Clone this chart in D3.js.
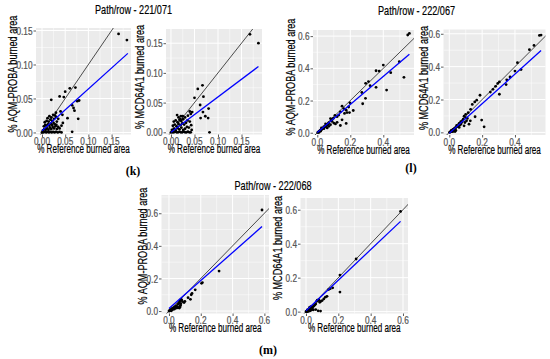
<!DOCTYPE html>
<html>
<head>
<meta charset="utf-8">
<script src="https://cdn.jsdelivr.net/npm/d3@7"></script>
<style>
	body { margin: 0; background: #fff; }
	svg { display: block; }
</style>
</head>
<body>
<div id="chart"></div>
<script>
const width = 550,
		height = 359;

// [reference, product] burned area
const aqm221071 = [
	[0.165,0.145],[0.183,0.136],[0.072,0.066],[0.060,0.065],[0.050,0.060],[0.038,0.053],[0.020,0.048],[0.047,0.052],
	[0.080,0.047],[0.076,0.046],[0.065,0.040],[0.068,0.036],[0.070,0.032],[0.078,0.020],[0.065,0.001],[0.055,0.021],
	[0.044,0.026],[0.040,0.031],[0.030,0.029],[0.028,0.025],[0.035,0.020],[0.042,0.010],[0.038,0.006],[0.045,0.014],
	[0.032,0.016],[0.000,0.000],[0.003,0.000],[0.006,0.001],[0.009,0.000],[0.012,0.001],[0.015,0.000],[0.018,0.001],
	[0.021,0.000],[0.024,0.001],[0.027,0.000],[0.030,0.001],[0.034,0.000],[0.038,0.001],[0.042,0.000],[0.002,0.003],
	[0.005,0.005],[0.008,0.004],[0.011,0.006],[0.014,0.004],[0.017,0.007],[0.020,0.005],[0.023,0.008],[0.026,0.006],
	[0.029,0.009],[0.032,0.005],[0.035,0.008],[0.004,0.009],[0.007,0.011],[0.010,0.010],[0.013,0.012],[0.016,0.010],
	[0.019,0.013],[0.022,0.011],[0.025,0.014],[0.028,0.012],[0.031,0.011],[0.006,0.015],[0.010,0.017],[0.014,0.016],
	[0.018,0.019],[0.022,0.017],[0.026,0.020],[0.012,0.021],[0.016,0.024],[0.020,0.022],[0.024,0.026],[0.030,0.023]
];
const mcd221071 = [
	[0.168,0.165],[0.186,0.150],[0.067,0.079],[0.057,0.073],[0.050,0.058],[0.069,0.060],[0.062,0.046],[0.068,0.034],
	[0.073,0.027],[0.079,0.024],[0.063,0.024],[0.080,0.040],[0.082,0.000],[0.045,0.034],[0.040,0.035],[0.042,0.031],
	[0.036,0.028],[0.030,0.025],[0.025,0.027],[0.013,0.029],[0.020,0.022],[0.035,0.020],[0.040,0.018],[0.043,0.012],
	[0.038,0.008],[0.044,0.004],[0.000,0.000],[0.003,0.000],[0.006,0.000],[0.009,0.001],[0.012,0.000],[0.015,0.000],
	[0.018,0.001],[0.021,0.000],[0.024,0.000],[0.027,0.001],[0.030,0.000],[0.033,0.000],[0.036,0.001],[0.039,0.000],
	[0.042,0.000],[0.002,0.004],[0.006,0.006],[0.010,0.003],[0.014,0.007],[0.018,0.005],[0.022,0.008],[0.026,0.004],
	[0.030,0.006],[0.034,0.009],[0.004,0.011],[0.008,0.013],[0.012,0.010],[0.016,0.014],[0.020,0.012],[0.024,0.015],
	[0.028,0.013],[0.032,0.016],[0.006,0.018],[0.010,0.020],[0.014,0.017],[0.018,0.021],[0.022,0.019],[0.026,0.022],
	[0.016,0.025],[0.021,0.027]
];
const aqm222067 = [
	[0.548,0.607],[0.558,0.617],[0.497,0.441],[0.525,0.344],[0.400,0.420],[0.445,0.373],[0.356,0.385],[0.375,0.383],
	[0.420,0.265],[0.356,0.282],[0.320,0.292],[0.310,0.318],[0.293,0.307],[0.292,0.214],[0.275,0.180],[0.270,0.250],
	[0.198,0.186],[0.190,0.160],[0.218,0.138],[0.175,0.140],[0.150,0.165],[0.160,0.150],[0.180,0.125],[0.195,0.125],
	[0.165,0.120],[0.140,0.130],[0.130,0.110],[0.120,0.100],[0.107,0.108],[0.098,0.090],[0.090,0.085],[0.080,0.088],
	[0.085,0.075],[0.150,0.080],[0.175,0.058],[0.140,0.045],[0.120,0.065],[0.110,0.055],[0.100,0.060],[0.080,0.050],
	[0.070,0.062],[0.065,0.055],[0.060,0.050],[0.055,0.045],[0.050,0.040],[0.045,0.035],[0.040,0.038],[0.035,0.030],
	[0.030,0.026],[0.027,0.020],[0.022,0.018],[0.018,0.015],[0.015,0.012],[0.012,0.008],[0.008,0.006],[0.005,0.004],
	[0.003,0.001],[0.010,0.002],[0.020,0.010],[0.025,0.030],[0.040,0.025],[0.050,0.055],[0.060,0.030],[0.070,0.040],
	[0.090,0.070]
];
const mcd222067 = [
	[0.549,0.590],[0.559,0.592],[0.516,0.529],[0.488,0.503],[0.415,0.424],[0.437,0.382],[0.400,0.373],[0.370,0.337],
	[0.350,0.320],[0.346,0.291],[0.305,0.307],[0.295,0.298],[0.282,0.280],[0.266,0.262],[0.305,0.232],[0.250,0.245],
	[0.187,0.226],[0.167,0.196],[0.155,0.185],[0.140,0.170],[0.130,0.140],[0.115,0.120],[0.100,0.110],[0.090,0.098],
	[0.157,0.095],[0.197,0.075],[0.128,0.070],[0.120,0.050],[0.212,0.034],[0.110,0.085],[0.105,0.070],[0.095,0.060],
	[0.085,0.080],[0.080,0.070],[0.075,0.060],[0.070,0.050],[0.065,0.045],[0.060,0.055],[0.055,0.040],[0.050,0.035],
	[0.045,0.042],[0.040,0.030],[0.035,0.025],[0.030,0.022],[0.027,0.015],[0.022,0.018],[0.018,0.010],[0.015,0.008],
	[0.012,0.012],[0.010,0.005],[0.007,0.003],[0.004,0.002],[0.002,0.000],[0.020,0.004],[0.025,0.008],[0.030,0.010],
	[0.035,0.005],[0.040,0.012],[0.060,0.030],[0.070,0.065],[0.090,0.040],[0.100,0.090]
];
const aqm222068 = [
	[0.585,0.620],[0.315,0.245],[0.210,0.175],[0.205,0.170],[0.165,0.130],[0.145,0.108],[0.140,0.100],[0.120,0.082],
	[0.135,0.072],[0.100,0.060],[0.095,0.052],[0.085,0.058],[0.080,0.068],[0.075,0.072],[0.070,0.066],[0.068,0.058],
	[0.075,0.045],[0.072,0.035],[0.070,0.025],[0.065,0.018],[0.060,0.022],[0.055,0.020],[0.050,0.024],[0.045,0.018],
	[0.040,0.022],[0.035,0.025],[0.030,0.020],[0.028,0.014],[0.025,0.010],[0.022,0.018],[0.020,0.012],[0.018,0.008],
	[0.015,0.010],[0.012,0.006],[0.010,0.004],[0.008,0.008],[0.005,0.003],[0.003,0.001],[0.000,0.000],[0.015,0.002],
	[0.035,0.012],[0.045,0.030],[0.060,0.045],[0.065,0.050],[0.055,0.040]
];
const mcd222068 = [
	[0.585,0.590],[0.310,0.310],[0.210,0.215],[0.210,0.115],[0.165,0.140],[0.150,0.135],[0.140,0.130],[0.130,0.090],
	[0.120,0.085],[0.110,0.075],[0.100,0.065],[0.090,0.060],[0.085,0.055],[0.080,0.070],[0.075,0.065],[0.070,0.068],
	[0.065,0.060],[0.060,0.045],[0.055,0.040],[0.050,0.035],[0.045,0.030],[0.040,0.028],[0.035,0.025],[0.030,0.030],
	[0.025,0.020],[0.022,0.025],[0.020,0.015],[0.018,0.010],[0.015,0.012],[0.012,0.008],[0.010,0.005],[0.008,0.010],
	[0.005,0.003],[0.003,0.001],[0.000,0.000],[0.008,0.000],[0.015,0.002],[0.020,0.004],[0.030,0.008],[0.045,0.010],
	[0.060,0.012],[0.075,0.005],[0.090,0.003],[0.040,0.015],[0.025,0.005]
];

// linear fits: [intercept, slope, x start, x end]
const fitAqm221071 = [0.0026, 0.615, 0, 0.185];
const fitMcd221071 = [0.000, 0.595, 0, 0.186];
const fitAqm222067 = [0.001, 0.873, 0, 0.558];
const fitMcd222067 = [-0.005, 0.900, 0, 0.559];
const fitAqm222068 = [0.015, 0.860, 0, 0.585];
const fitMcd222068 = [0.005, 0.900, 0, 0.585];

const ticksSmall = [0, 0.05, 0.10, 0.15];
const ticksLarge = [0, 0.2, 0.4, 0.6];
const pathRows = ["Path/row - 221/071", "Path/row - 222/067", "Path/row - 222/068"];
const figLabels = ["(k)", "(l)", "(m)"];
const yTitles = ["% AQM-PROBA burned area", "% MCD64A1 burned area"];
const xTitle = "% Reference burned area";

// layout of the six panels (pixel boxes [x0, y0, x1, y1]) and y-title centres
const panels = [
	{ data: aqm221071, fit: fitAqm221071, yTitle: yTitles[0], box: [36, 28, 131, 134.5], xDom: [-0.0129, 0.1918], yDom: [-0.003, 0.1537], ticks: ticksSmall, fmt: ".2f", yLab: [12, 74] },
	{ data: mcd221071, fit: fitMcd221071, yTitle: yTitles[1], box: [166, 29, 262, 134.5], xDom: [-0.0106, 0.1936], yDom: [-0.0037, 0.1739], ticks: ticksSmall, fmt: ".2f", yLab: [139.5, 77] },
	{ data: aqm222067, fit: fitAqm222067, yTitle: yTitles[0], box: [313, 30, 414, 135], xDom: [-0.026, 0.586], yDom: [-0.014, 0.638], ticks: ticksLarge, fmt: ".1f", yLab: [290.5, 77] },
	{ data: mcd222067, fit: fitMcd222067, yTitle: yTitles[1], box: [443.5, 29.5, 545.5, 135], xDom: [-0.0354, 0.586], yDom: [-0.016, 0.626], ticks: ticksLarge, fmt: ".1f", yLab: [423.5, 78] },
	{ data: aqm222068, fit: fitAqm222068, yTitle: yTitles[0], box: [161.5, 195, 269, 313.5], xDom: [-0.047, 0.629], yDom: [-0.015, 0.712], ticks: ticksLarge, fmt: ".1f", yLab: [142.5, 246] },
	{ data: mcd222068, fit: fitMcd222068, yTitle: yTitles[1], box: [300.5, 198, 408, 313.5], xDom: [-0.034, 0.631], yDom: [-0.011, 0.669], ticks: ticksLarge, fmt: ".1f", yLab: [277.5, 248] }
];

const svg = d3.select("#chart")
	.append("svg")
		.attr("width", width)
		.attr("height", height)
		.style("font-family", "'Liberation Sans', Arial, sans-serif");

// the figure's type is narrow and a bit heavy: squeeze along the text and add a thin outline
const addText = (g, str, x, y, opt) => g.append("text")
	.attr("transform", `translate(${x},${y}) rotate(${opt.rotate || 0}) scale(${opt.squeeze || 1},1)`)
	.attr("text-anchor", opt.anchor || "middle")
	.attr("font-size", opt.size)
	.attr("font-weight", opt.weight || "normal")
	.attr("font-family", opt.family || null)
	.attr("fill", opt.fill || "#000")
	.attr("stroke", opt.fill || "#000")
	.attr("stroke-width", opt.heavy || 0)
	.text(str);

const drawPanel = (p, idx) => {
	const [x0, y0, x1, y1] = p.box;
	const x = d3.scaleLinear().domain(p.xDom).range([x0, x1]);
	const y = d3.scaleLinear().domain(p.yDom).range([y1, y0]);
	const step = p.ticks[1] - p.ticks[0];
	const inX = (v) => v >= p.xDom[0] && v <= p.xDom[1];
	const inY = (v) => v >= p.yDom[0] && v <= p.yDom[1];
	const minor = d3.range(-step / 2, 0.8, step).map((v) => +v.toFixed(4));

	const g = svg.append("g").attr("class", "panel");

	g.append("clipPath")
		.attr("id", "clip" + idx)
		.append("rect")
			.attr("x", x0).attr("y", y0)
			.attr("width", x1 - x0).attr("height", y1 - y0);

	g.append("rect")
		.attr("x", x0).attr("y", y0)
		.attr("width", x1 - x0).attr("height", y1 - y0)
		.attr("fill", "#EBEBEB");

	// grid
	const grid = g.append("g").attr("stroke", "#fff");
	grid.selectAll(".mx").data(minor.filter(inX)).enter().append("line")
		.attr("x1", (d) => x(d)).attr("x2", (d) => x(d))
		.attr("y1", y0).attr("y2", y1).attr("stroke-width", 0.5);
	grid.selectAll(".my").data(minor.filter(inY)).enter().append("line")
		.attr("y1", (d) => y(d)).attr("y2", (d) => y(d))
		.attr("x1", x0).attr("x2", x1).attr("stroke-width", 0.5);
	grid.selectAll(".gx").data(p.ticks.filter(inX)).enter().append("line")
		.attr("x1", (d) => x(d)).attr("x2", (d) => x(d))
		.attr("y1", y0).attr("y2", y1).attr("stroke-width", 1);
	grid.selectAll(".gy").data(p.ticks.filter(inY)).enter().append("line")
		.attr("y1", (d) => y(d)).attr("y2", (d) => y(d))
		.attr("x1", x0).attr("x2", x1).attr("stroke-width", 1);

	const plot = g.append("g").attr("clip-path", `url(#clip${idx})`);

	// 1:1 line
	plot.append("line")
		.attr("x1", x(-1)).attr("y1", y(-1))
		.attr("x2", x(1)).attr("y2", y(1))
		.attr("stroke", "#222")
		.attr("stroke-width", 0.8);

	plot.selectAll("circle")
		.data(p.data)
		.enter()
		.append("circle")
			.attr("cx", (d) => x(d[0]))
			.attr("cy", (d) => y(d[1]))
			.attr("r", 1.4)
			.attr("fill", "#000");

	const [a, b, fx0, fx1] = p.fit;
	plot.append("line")
		.attr("x1", x(fx0)).attr("y1", y(a + b * fx0))
		.attr("x2", x(fx1)).attr("y2", y(a + b * fx1))
		.attr("stroke", "#0000FF")
		.attr("stroke-width", 1.3);

	// axes
	const fmt = d3.format(p.fmt);
	const xAxis = g.append("g")
		.attr("transform", `translate(0,${y1})`)
		.call(d3.axisBottom(x).tickValues(p.ticks.filter(inX)).tickSize(2.5).tickFormat(""));
	const yAxis = g.append("g")
		.attr("transform", `translate(${x0},0)`)
		.call(d3.axisLeft(y).tickValues(p.ticks.filter(inY)).tickSize(2.5).tickFormat(""));
	[xAxis, yAxis].forEach((ax) => {
		ax.select(".domain").remove();
		ax.selectAll(".tick line").attr("stroke", "#333").attr("stroke-width", 0.8);
	});

	const tickStyle = { size: 11.5, squeeze: 0.72, fill: "#555", heavy: 0.25 };
	p.ticks.filter(inX).forEach((t) => {
		addText(g, fmt(t), x(t), y1 + 10.8, tickStyle);
	});
	p.ticks.filter(inY).forEach((t) => {
		addText(g, fmt(t), x0 - 3.5, y(t) + 4.1, Object.assign({ anchor: "end" }, tickStyle));
	});

	addText(g, xTitle, (x0 + x1) / 2, y1 + 18.8, { size: 13.5, squeeze: 0.6, heavy: 0.2 });
	addText(g, p.yTitle, p.yLab[0] + 4.5, p.yLab[1], { size: 13.5, squeeze: 0.675, rotate: -90, heavy: 0.2 });
};

panels.forEach(drawPanel);

// headings and figure letters
addText(svg, pathRows[0], 133.5, 14, { size: 12.5, squeeze: 0.73, heavy: 0.2 });
addText(svg, pathRows[1], 416.5, 15, { size: 12.5, squeeze: 0.73, heavy: 0.2 });
addText(svg, pathRows[2], 273, 190, { size: 12.5, squeeze: 0.73, heavy: 0.2 });

const serif = "'Liberation Serif', 'Times New Roman', serif";
addText(svg, figLabels[0], 133, 175, { size: 12, weight: "bold", family: serif });
addText(svg, figLabels[1], 411, 172, { size: 12, weight: "bold", family: serif });
addText(svg, figLabels[2], 268, 354, { size: 12, weight: "bold", family: serif });
</script>
</body>
</html>
